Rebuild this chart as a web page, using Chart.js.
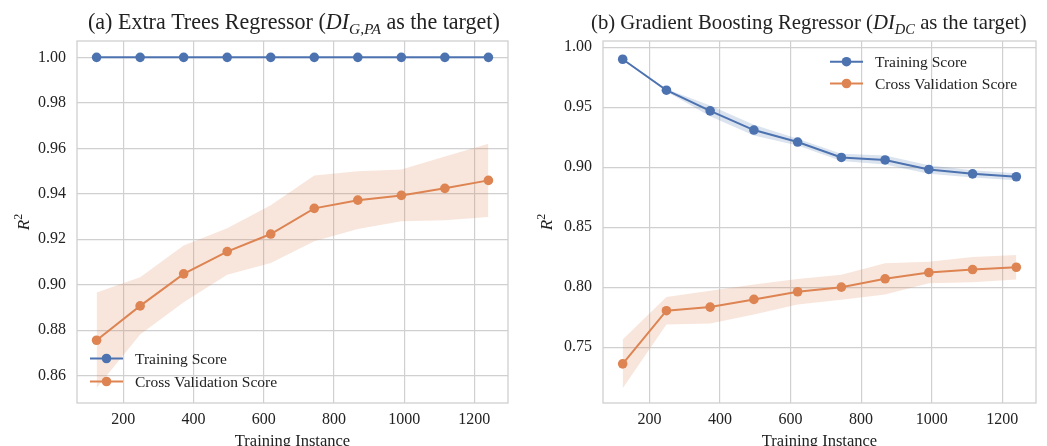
<!DOCTYPE html>
<html><head><meta charset="utf-8">
<script src="https://cdn.jsdelivr.net/npm/chart.js@4/dist/chart.umd.min.js"></script>
<style>
html,body{margin:0;padding:0;background:#fff;width:1047px;height:446px;overflow:hidden}
#a{position:absolute;left:0;top:0}
#b{position:absolute;left:520px;top:0}
</style></head><body>
<canvas id="a" width="520" height="446"></canvas>
<canvas id="b" width="527" height="446"></canvas>
<script>
// ---- data ----
const trainSizes = [124, 248, 372, 496, 620, 744, 868, 992, 1116, 1240];
const xTicks = [200, 400, 600, 800, 1000, 1200];

// panel (a) Extra Trees Regressor
const aTrainMean = [1.0, 1.0, 1.0, 1.0, 1.0, 1.0, 1.0, 1.0, 1.0, 1.0];
const aTrainStd  = [0, 0, 0, 0, 0, 0, 0, 0, 0, 0];
const aCvMean    = [0.8756, 0.8907, 0.9048, 0.9146, 0.9223, 0.9336, 0.9372, 0.9393, 0.9424, 0.9459];
const aCvStd     = [0.0210, 0.0126, 0.0125, 0.0102, 0.0127, 0.0145, 0.0127, 0.0114, 0.0140, 0.0161];
const aYTicks    = [0.86, 0.88, 0.90, 0.92, 0.94, 0.96, 0.98, 1.00];

// panel (b) Gradient Boosting Regressor
const bTrainMean = [0.9899, 0.9641, 0.9469, 0.9309, 0.9209, 0.9081, 0.9060, 0.8981, 0.8944, 0.8920];
const bTrainStd  = [0.0005, 0.0010, 0.0045, 0.0045, 0.0028, 0.0030, 0.0038, 0.0035, 0.0030, 0.0030];
const bCvMean    = [0.7361, 0.7804, 0.7834, 0.7898, 0.7962, 0.8000, 0.8070, 0.8122, 0.8147, 0.8166];
const bCvStd     = [0.0203, 0.0114, 0.0137, 0.0125, 0.0107, 0.0104, 0.0130, 0.0090, 0.0105, 0.0103];
const bYTicks    = [0.75, 0.80, 0.85, 0.90, 0.95, 1.00];

const legendLabels = ['Training Score', 'Cross Validation Score'];

// ---- style ----
const BLUE = '#4C72B0', ORANGE = '#DD8452';
const BLUE_BAND = 'rgba(76,114,176,0.2)', ORANGE_BAND = 'rgba(221,132,82,0.2)';
const GRID = '#d0d0d0', TEXT = '#222222';
const SERIF = '"Liberation Serif", "Times New Roman", serif';
const TICK_SIZE = 16;

function pts(ys) { return trainSizes.map((x, i) => ({x: x, y: ys[i]})); }
function add(m, s, k) { return m.map((v, i) => v + k * s[i]); }

function drawRuns(ctx, runs, x, y, size) {
  let cx = x;
  for (const r of runs) {
    const fs = (r.sub || r.sup) ? size * 0.7 : size;
    ctx.font = (r.it ? 'italic ' : '') + fs + 'px ' + SERIF;
    const dy = r.sub ? size * 0.22 : (r.sup ? -size * 0.38 : 0);
    ctx.fillText(r.t, cx, y + dy);
    cx += ctx.measureText(r.t).width;
  }
  return cx - x;
}
function measureRuns(ctx, runs, size) {
  let w = 0;
  for (const r of runs) {
    const fs = (r.sub || r.sup) ? size * 0.7 : size;
    ctx.font = (r.it ? 'italic ' : '') + fs + 'px ' + SERIF;
    w += ctx.measureText(r.t).width;
  }
  return w;
}

const textPlugin = {
  id: 'texts',
  afterDraw(chart, args, o) {
    const ctx = chart.ctx, ca = chart.chartArea;
    ctx.save();
    // frame (spines)
    ctx.strokeStyle = GRID; ctx.lineWidth = 1.3;
    ctx.strokeRect(ca.left, ca.top, ca.right - ca.left, ca.bottom - ca.top);
    ctx.fillStyle = TEXT;
    ctx.textBaseline = 'alphabetic'; ctx.textAlign = 'left';
    // title
    let ts = 20;
    const w0 = measureRuns(ctx, o.title, ts);
    ts = ts * o.titleWidth / w0;
    drawRuns(ctx, o.title, o.titleX, 29, ts);
    // x-axis title
    ctx.font = '16.5px ' + SERIF;
    ctx.textAlign = 'center';
    ctx.fillText('Training Instance', (ca.left + ca.right) / 2, 446);
    // y-axis title R^2
    ctx.save();
    ctx.translate(o.yTitleX, (ca.top + ca.bottom) / 2);
    ctx.rotate(-Math.PI / 2);
    ctx.textAlign = 'left';
    ctx.textBaseline = 'middle';
    const rr = [{t: 'R', it: true}, {t: '2', sup: true}];
    const rw = measureRuns(ctx, rr, 17);
    drawRuns(ctx, rr, -rw / 2, 0, 17);
    ctx.restore();
    // legend
    const colors = [BLUE, ORANGE];
    ctx.textAlign = 'left'; ctx.textBaseline = 'middle';
    ctx.font = '15.5px ' + SERIF;
    legendLabels.forEach((lab, i) => {
      const y = o.legY[i];
      ctx.strokeStyle = colors[i]; ctx.lineWidth = 2;
      ctx.beginPath(); ctx.moveTo(o.legX, y); ctx.lineTo(o.legX + 33, y); ctx.stroke();
      ctx.fillStyle = colors[i];
      ctx.beginPath(); ctx.arc(o.legX + 16.5, y, 4.8, 0, Math.PI * 2); ctx.fill();
      ctx.fillStyle = TEXT;
      ctx.fillText(lab, o.legX + 45, y + 1);
    });
    ctx.restore();
  }
};

function makeChart(id, p) {
  const ds = [
    {data: pts(add(p.trMean, p.trStd, 1)), borderWidth: 0, pointRadius: 0, fill: false, order: 5},
    {data: pts(add(p.trMean, p.trStd, -1)), borderWidth: 0, pointRadius: 0, fill: '-1', backgroundColor: BLUE_BAND, order: 5},
    {data: pts(add(p.cvMean, p.cvStd, 1)), borderWidth: 0, pointRadius: 0, fill: false, order: 4},
    {data: pts(add(p.cvMean, p.cvStd, -1)), borderWidth: 0, pointRadius: 0, fill: '-1', backgroundColor: ORANGE_BAND, order: 4},
    {data: pts(p.trMean), borderColor: BLUE, backgroundColor: BLUE, borderWidth: 2, pointRadius: 4.8, pointBorderWidth: 0, pointBackgroundColor: BLUE, fill: false, order: 2},
    {data: pts(p.cvMean), borderColor: ORANGE, backgroundColor: ORANGE, borderWidth: 2, pointRadius: 4.8, pointBorderWidth: 0, pointBackgroundColor: ORANGE, fill: false, order: 1}
  ];
  return new Chart(document.getElementById(id), {
    type: 'line',
    data: {datasets: ds},
    options: {
      responsive: false, animation: false, devicePixelRatio: 1,
      layout: {padding: {left: 0, right: p.padRight, top: 41, bottom: 0}},
      elements: {line: {tension: 0}},
      plugins: {
        legend: {display: false}, tooltip: {enabled: false},
        texts: {title: p.title, titleX: p.titleX, titleWidth: p.titleWidth, yTitleX: p.yTitleX, legX: p.legX, legY: p.legY}
      },
      scales: {
        x: {
          type: 'linear', min: 68.2, max: 1295.8,
          afterBuildTicks: s => { s.ticks = xTicks.map(v => ({value: v})); },
          afterFit: s => { s.height = 43; },
          ticks: {autoSkip: false, maxRotation: 0, padding: 7, color: TEXT, font: {family: SERIF, size: TICK_SIZE}, callback: v => String(v)},
          grid: {color: GRID, lineWidth: 1.2, drawTicks: false},
          border: {display: false}
        },
        y: {
          type: 'linear', min: p.yMin, max: p.yMax,
          afterBuildTicks: s => { s.ticks = p.yTicks.map(v => ({value: v})); },
          afterFit: s => { s.width = p.yWidth; },
          ticks: {autoSkip: false, padding: 11, color: TEXT, font: {family: SERIF, size: TICK_SIZE}, callback: v => v.toFixed(2)},
          grid: {color: GRID, lineWidth: 1.2, drawTicks: false},
          border: {display: false}
        }
      }
    },
    plugins: [textPlugin]
  });
}

makeChart('a', {
  trMean: aTrainMean, trStd: aTrainStd, cvMean: aCvMean, cvStd: aCvStd,
  yTicks: aYTicks, yMin: 0.848, yMax: 1.0072, yWidth: 77, padRight: 12,
  title: [{t: '(a) Extra Trees Regressor ('}, {t: 'DI', it: true}, {t: 'G,PA', it: true, sub: true}, {t: ' as the target)'}],
  titleX: 88, titleWidth: 412, yTitleX: 25, legX: 90, legY: [358.5, 381.5]
});
makeChart('b', {
  trMean: bTrainMean, trStd: bTrainStd, cvMean: bCvMean, cvStd: bCvStd,
  yTicks: bYTicks, yMin: 0.7035, yMax: 1.0051, yWidth: 83, padRight: 11,
  title: [{t: '(b) Gradient Boosting Regressor ('}, {t: 'DI', it: true}, {t: 'DC', it: true, sub: true}, {t: ' as the target)'}],
  titleX: 71, titleWidth: 436, yTitleX: 28, legX: 310, legY: [61.7, 83.5]
});
</script>
</body></html>
